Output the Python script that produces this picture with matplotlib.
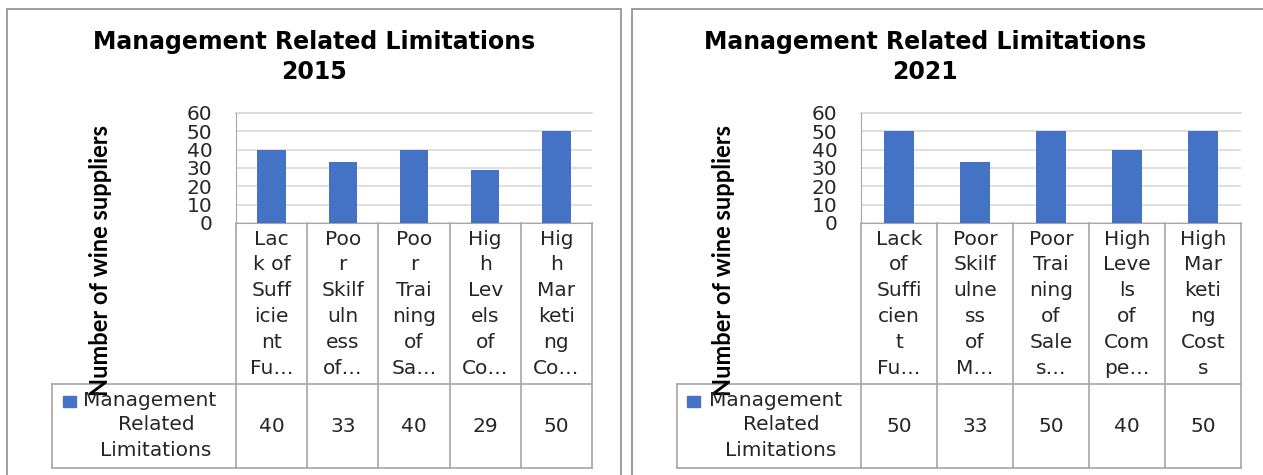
import matplotlib
matplotlib.use("Agg")
import matplotlib.pyplot as plt
from matplotlib.patches import Rectangle
from matplotlib.lines import Line2D
from matplotlib.transforms import blended_transform_factory

W, H = 1263, 475

# data
years = ["2015", "2021"]
values_2015 = [40, 33, 40, 29, 50]
values_2021 = [50, 33, 50, 40, 50]
labels_2015 = [
    ["Lac", "k of", "Suff", "icie", "nt", "Fu\u2026"],
    ["Poo", "r", "Skilf", "uln", "ess", "of\u2026"],
    ["Poo", "r", "Trai", "ning", "of", "Sa\u2026"],
    ["Hig", "h", "Lev", "els", "of", "Co\u2026"],
    ["Hig", "h", "Mar", "keti", "ng", "Co\u2026"],
]
labels_2021 = [
    ["Lack", "of", "Suffi", "cien", "t", "Fu\u2026"],
    ["Poor", "Skilf", "ulne", "ss", "of", "M\u2026"],
    ["Poor", "Trai", "ning", "of", "Sale", "s\u2026"],
    ["High", "Leve", "ls", "of", "Com", "pe\u2026"],
    ["High", "Mar", "keti", "ng", "Cost", "s"],
]
series_name = ["Management", "Related", "Limitations"]
title = "Management Related Limitations"
ylabel = "Number of wine suppliers"
yticks = [0, 10, 20, 30, 40, 50, 60]

BAR = "#4472C4"
GRID = "#d9d9d9"
CELL = "#a6a6a6"
TXT = "#262626"
BODY_FONT = "DejaVu Sans"
BODY_SIZE = 14.5


def fx(px):
    return px / W


def fy(py):
    return 1 - py / H


def draw_panel(fig, values, labels, year, frame_x, frame_w, title_x,
               plot_l, plot_r, legend_l, ylabel_x, name_x, mgmt_x, square_x):
    # outer chart frame
    fig.patches.append(Rectangle((fx(frame_x), fy(490)), frame_w / W, (490 - 9) / H,
                                 transform=fig.transFigure, fill=False,
                                 edgecolor="#8c8c8c", linewidth=1.2))

    fig.text(fx(title_x), fy(42), title, ha="center", va="center",
             fontsize=17, fontweight="bold", family=BODY_FONT, color="black")
    fig.text(fx(title_x), fy(72), year, ha="center", va="center",
             fontsize=17, fontweight="bold", family=BODY_FONT, color="black")

    top, zero, row, bottom = 113, 223, 384, 468
    ax = fig.add_axes([fx(plot_l), fy(zero), (plot_r - plot_l) / W, (zero - top) / H])
    x = list(range(len(values)))
    ax.bar(x, values, width=0.4, color=BAR, zorder=3)
    ax.set_xlim(-0.5, len(values) - 0.5)
    ax.set_ylim(0, 60)
    ax.set_yticks(yticks)
    ax.set_xticks([])
    ax.yaxis.grid(True, color=GRID, linewidth=1.2, zorder=0)
    ax.set_axisbelow(True)
    for s in ["top", "right"]:
        ax.spines[s].set_visible(False)
    ax.spines["left"].set_color(CELL)
    ax.spines["bottom"].set_color(CELL)
    ax.tick_params(axis="y", length=0, pad=17, labelsize=14.5, labelcolor=TXT)
    for t in ax.get_yticklabels():
        t.set_family(BODY_FONT)
    ax.axhline(60, color=GRID, linewidth=1.2, clip_on=False)

    fig.text(fx(ylabel_x), fy(261), ylabel, rotation=90, ha="center", va="center",
             fontsize=17, fontweight="bold", family="Lato", color="black")

    # data table under the axis
    trans = blended_transform_factory(ax.transData, fig.transFigure)
    for i in range(len(values) + 1):
        ax.add_line(Line2D([i - 0.5, i - 0.5], [fy(zero), fy(bottom)], transform=trans,
                           color=CELL, linewidth=1.2, clip_on=False))
    ax.add_line(Line2D([-0.5, len(values) - 0.5], [fy(bottom), fy(bottom)], transform=trans,
                       color=CELL, linewidth=1.2, clip_on=False))
    ax.add_line(Line2D([-0.5, len(values) - 0.5], [fy(row), fy(row)], transform=trans,
                       color=CELL, linewidth=1.2, clip_on=False))
    # legend cell
    fig.add_artist(Line2D([fx(legend_l), fx(plot_l)], [fy(row), fy(row)],
                          color=CELL, linewidth=1.2))
    fig.add_artist(Line2D([fx(legend_l), fx(plot_l)], [fy(bottom), fy(bottom)],
                          color=CELL, linewidth=1.2))
    fig.add_artist(Line2D([fx(legend_l), fx(legend_l)], [fy(row), fy(bottom)],
                          color=CELL, linewidth=1.2))

    line_y = [239, 265, 290, 316, 342, 368]
    for i, lines in enumerate(labels):
        for k, s in enumerate(lines):
            ax.text(i, fy(line_y[k]), s, transform=trans, ha="center", va="center",
                    fontsize=BODY_SIZE, family=BODY_FONT, color=TXT)
    for i, v in enumerate(values):
        ax.text(i, fy(426), str(v), transform=trans, ha="center", va="center",
                fontsize=BODY_SIZE, family=BODY_FONT, color=TXT)

    fig.patches.append(Rectangle((fx(square_x), fy(407)), 13 / W, 11 / H,
                                 transform=fig.transFigure, color=BAR))
    fig.text(fx(mgmt_x), fy(401), series_name[0], ha="left", va="center",
             fontsize=BODY_SIZE, family=BODY_FONT, color=TXT)
    fig.text(fx(name_x), fy(425), series_name[1], ha="center", va="center",
             fontsize=BODY_SIZE, family=BODY_FONT, color=TXT)
    fig.text(fx(name_x), fy(450), series_name[2], ha="center", va="center",
             fontsize=BODY_SIZE, family=BODY_FONT, color=TXT)
    return ax


fig = plt.figure(figsize=(W / 100, H / 100), dpi=100)
fig.patch.set_facecolor("white")

draw_panel(fig, values_2015, labels_2015, years[0], frame_x=7, frame_w=614, title_x=314,
           plot_l=236, plot_r=592, legend_l=52, ylabel_x=101, name_x=156, mgmt_x=83, square_x=63)
draw_panel(fig, values_2021, labels_2021, years[1], frame_x=632, frame_w=700, title_x=925,
           plot_l=861, plot_r=1241, legend_l=677, ylabel_x=724, name_x=781, mgmt_x=709, square_x=687)

fig.savefig("out.png", dpi=100, facecolor="white")
